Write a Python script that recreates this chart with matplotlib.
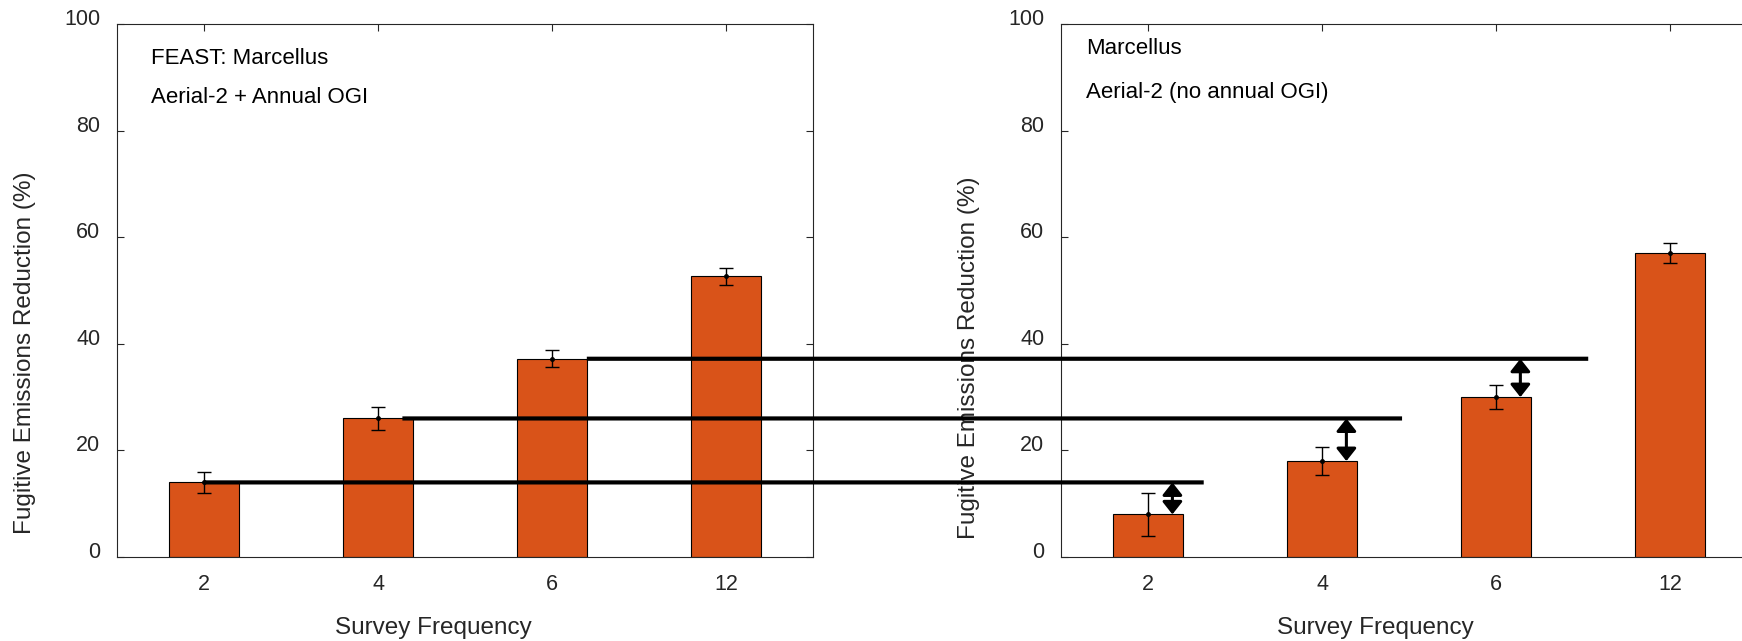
import matplotlib.pyplot as plt
import matplotlib.transforms as mtransforms
import numpy as np
from matplotlib.patches import ConnectionPatch

plt.rcParams["font.family"] = ["Liberation Sans", "DejaVu Sans"]

# survey frequency categories
frequencies = ["2", "4", "6", "12"]

# Aerial-2 + annual OGI (left panel)
with_ogi = [14.0, 26.0, 37.2, 52.7]
with_ogi_err = [2.0, 2.1, 1.6, 1.6]

# Aerial-2 without annual OGI (right panel)
no_ogi = [8.0, 18.0, 30.0, 57.0]
no_ogi_err = [4.0, 2.6, 2.2, 1.9]

# reference lines carried over from the left bars: start x (left), end x (right)
line_start = [1.0, 2.14, 3.2]
line_end = [1.32, 2.46, 3.53]
arrow_offset = 0.14

BAR_COLOR = "#D95319"
AX_COLOR = "#262626"

fig = plt.figure(figsize=(17.42, 6.41), dpi=100)
ax1 = fig.add_axes([0.0672, 0.131, 0.3995, 0.8315])
ax2 = fig.add_axes([0.6091, 0.131, 0.3995, 0.8315])

x = np.arange(1, len(frequencies) + 1)


def style_axes(ax, xlabel_pos, ylabel_pos):
    ax.set_xlim(0.5, len(frequencies) + 0.5)
    ax.set_ylim(0, 100)
    ax.set_xticks(x, frequencies)
    ax.set_yticks(np.arange(0, 101, 20))
    for spine in ax.spines.values():
        spine.set_color(AX_COLOR)
        spine.set_linewidth(0.8)
    ax.tick_params(direction="in", length=5, width=0.8, color=AX_COLOR,
                   labelcolor=AX_COLOR, labelsize=15.5, top=True, right=True)
    ax.tick_params(axis="x", pad=12)
    ax.tick_params(axis="y", pad=12)
    # labels sit a little above their ticks
    shift = mtransforms.ScaledTranslation(0, 0.07, fig.dpi_scale_trans)
    for lab in ax.get_yticklabels():
        lab.set_transform(lab.get_transform() + shift)

    ax.set_xlabel("Survey Frequency", fontsize=17.5, color=AX_COLOR)
    ax.set_ylabel("Fugitive Emissions Reduction (%)", fontsize=17.5, color=AX_COLOR)
    ax.xaxis.label.set_va("center")
    ax.yaxis.label.set_va("center")
    ax.xaxis.set_label_coords(*xlabel_pos)
    ax.yaxis.set_label_coords(*ylabel_pos)


def draw_bars(ax, values, errors):
    ax.bar(x, values, width=0.4, color=BAR_COLOR, edgecolor="black", linewidth=0.8, zorder=2)
    ax.errorbar(x, values, yerr=errors, fmt="o", color="black", markersize=2.5,
                elinewidth=1, capsize=4.7, capthick=1, zorder=3)


draw_bars(ax1, with_ogi, with_ogi_err)
draw_bars(ax2, no_ogi, no_ogi_err)

style_axes(ax1, (0.454, -0.133), (-0.132, 0.383))
style_axes(ax2, (0.451, -0.133), (-0.132, 0.373))

ax1.text(0.049, 0.936, "FEAST: Marcellus", transform=ax1.transAxes, fontsize=16, va="center")
ax1.text(0.049, 0.863, "Aerial-2 + Annual OGI", transform=ax1.transAxes, fontsize=16, va="center")
ax2.text(0.036, 0.955, "Marcellus", transform=ax2.transAxes, fontsize=16, va="center")
ax2.text(0.036, 0.872, "Aerial-2 (no annual OGI)", transform=ax2.transAxes, fontsize=16, va="center")

# horizontal lines from the left bars across to the right panel, with difference arrows
for i in range(3):
    y = with_ogi[i]
    con = ConnectionPatch(xyA=(line_start[i], y), coordsA=ax1.transData,
                          xyB=(line_end[i], y), coordsB=ax2.transData,
                          color="black", linewidth=3, capstyle="butt", zorder=5)
    fig.add_artist(con)
    xa = x[i] + arrow_offset
    ax2.annotate("", xy=(xa, no_ogi[i]), xytext=(xa, y),
                 arrowprops=dict(arrowstyle="<|-|>,head_length=0.38,head_width=0.3",
                                 mutation_scale=20, color="black", lw=2.2,
                                 shrinkA=0, shrinkB=0),
                 zorder=6)

fig.savefig("out.png", dpi=100)
